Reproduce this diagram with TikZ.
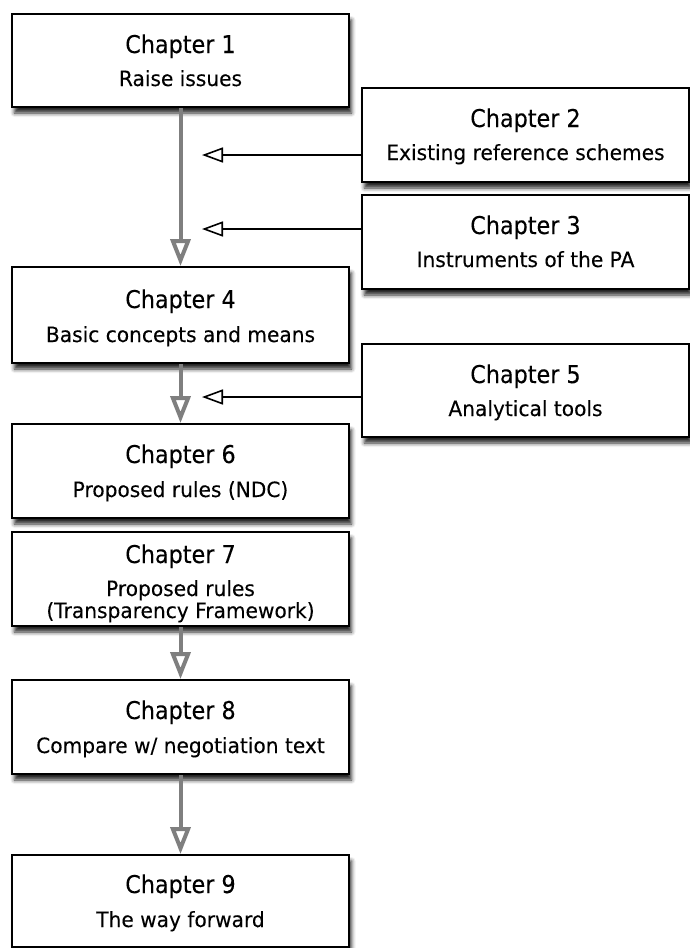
\documentclass[tikz,border=0pt]{standalone}
\usepackage{fontspec}
\setmainfont{DejaVu Sans}
\newfontfamily\titlefont[FakeStretch=0.91, FakeBold=0.15]{DejaVu Sans}
\newfontfamily\subfont[FakeStretch=0.96, FakeBold=0.15]{DejaVu Sans}
\usetikzlibrary{arrows.meta,shadows.blur}

\definecolor{flowgray}{HTML}{7F7F7F}

\tikzset{
  chapbox/.style={rectangle, draw=black, line width=2pt, fill=white, inner sep=0pt,
    blur shadow={shadow xshift=2.5pt, shadow yshift=-6pt, shadow blur radius=4pt, shadow opacity=85}},
  chaptitle/.style={anchor=base, inner sep=0pt, font=\titlefont\fontsize{24.5}{28}\selectfont},
  chapsub/.style={anchor=base, inner sep=0pt, font=\subfont\fontsize{21}{24}\selectfont},
  flow/.style={draw=flowgray, line width=4pt, -{Triangle[open, length=27pt, width=20pt]}},
  feed/.style={draw=black, line width=1.6pt, -{Triangle[open, length=21pt, width=15pt]}},
}

\begin{document}
\begin{tikzpicture}[x=1pt, y=-1pt]
  \useasboundingbox (0,0) rectangle (690,948);

  % main column
  \node[chapbox, minimum width=337pt, minimum height=93pt] (b1) at (180.5,60.5) {};
  \node[chaptitle] (b1t) at (180.5,53) {Chapter 1};
  \node[chapsub]   (b1s) at (180.5,86) {Raise issues};

  \node[chapbox, minimum width=337pt, minimum height=96pt] (b4) at (180.5,315) {};
  \node[chaptitle] (b4t) at (180.5,308) {Chapter 4};
  \node[chapsub]   (b4s) at (180.5,342) {Basic concepts and means};

  \node[chapbox, minimum width=337pt, minimum height=94pt] (b6) at (180.5,471) {};
  \node[chaptitle] (b6t) at (180.5,463) {Chapter 6};
  \node[chapsub]   (b6s) at (180.5,497) {Proposed rules (NDC)};

  \node[chapbox, minimum width=337pt, minimum height=94pt] (b7) at (180.5,579) {};
  \node[chaptitle] (b7t) at (180.5,563) {Chapter 7};
  \node[chapsub]   (b7s) at (180.5,596) {Proposed rules};
  \node[chapsub]   (b7u) at (180.5,618) {(Transparency Framework)};

  \node[chapbox, minimum width=337pt, minimum height=94pt] (b8) at (180.5,727) {};
  \node[chaptitle] (b8t) at (180.5,719) {Chapter 8};
  \node[chapsub]   (b8s) at (180.5,753) {Compare w/ negotiation text};

  \node[chapbox, minimum width=337pt, minimum height=92pt] (b9) at (180.5,901) {};
  \node[chaptitle] (b9t) at (180.5,893) {Chapter 9};
  \node[chapsub]   (b9s) at (180.5,927) {The way forward};

  % side column
  \node[chapbox, minimum width=327pt, minimum height=94pt] (b2) at (525.5,135) {};
  \node[chaptitle] (b2t) at (525.5,127) {Chapter 2};
  \node[chapsub]   (b2s) at (525.5,160) {Existing reference schemes};

  \node[chapbox, minimum width=327pt, minimum height=94pt] (b3) at (525.5,242) {};
  \node[chaptitle] (b3t) at (525.5,234) {Chapter 3};
  \node[chapsub]   (b3s) at (525.5,267) {Instruments of the PA};

  \node[chapbox, minimum width=327pt, minimum height=93pt] (b5) at (525.5,390.5) {};
  \node[chaptitle] (b5t) at (525.5,383) {Chapter 5};
  \node[chapsub]   (b5s) at (525.5,416) {Analytical tools};

  % reading order
  \draw[flow] (b1.south) -- (b4.north);
  \draw[flow] (b4.south) -- (b6.north);
  \draw[flow] (b7.south) -- (b8.north);
  \draw[flow] (b8.south) -- (b9.north);

  % side chapters feeding the main line
  \coordinate (f2) at (202,155);
  \coordinate (f3) at (202,229);
  \coordinate (f5) at (202,397);
  \draw[feed] (b2.west |- f2) -- (f2);
  \draw[feed] (b3.west |- f3) -- (f3);
  \draw[feed] (b5.west |- f5) -- (f5);
\end{tikzpicture}
\end{document}
